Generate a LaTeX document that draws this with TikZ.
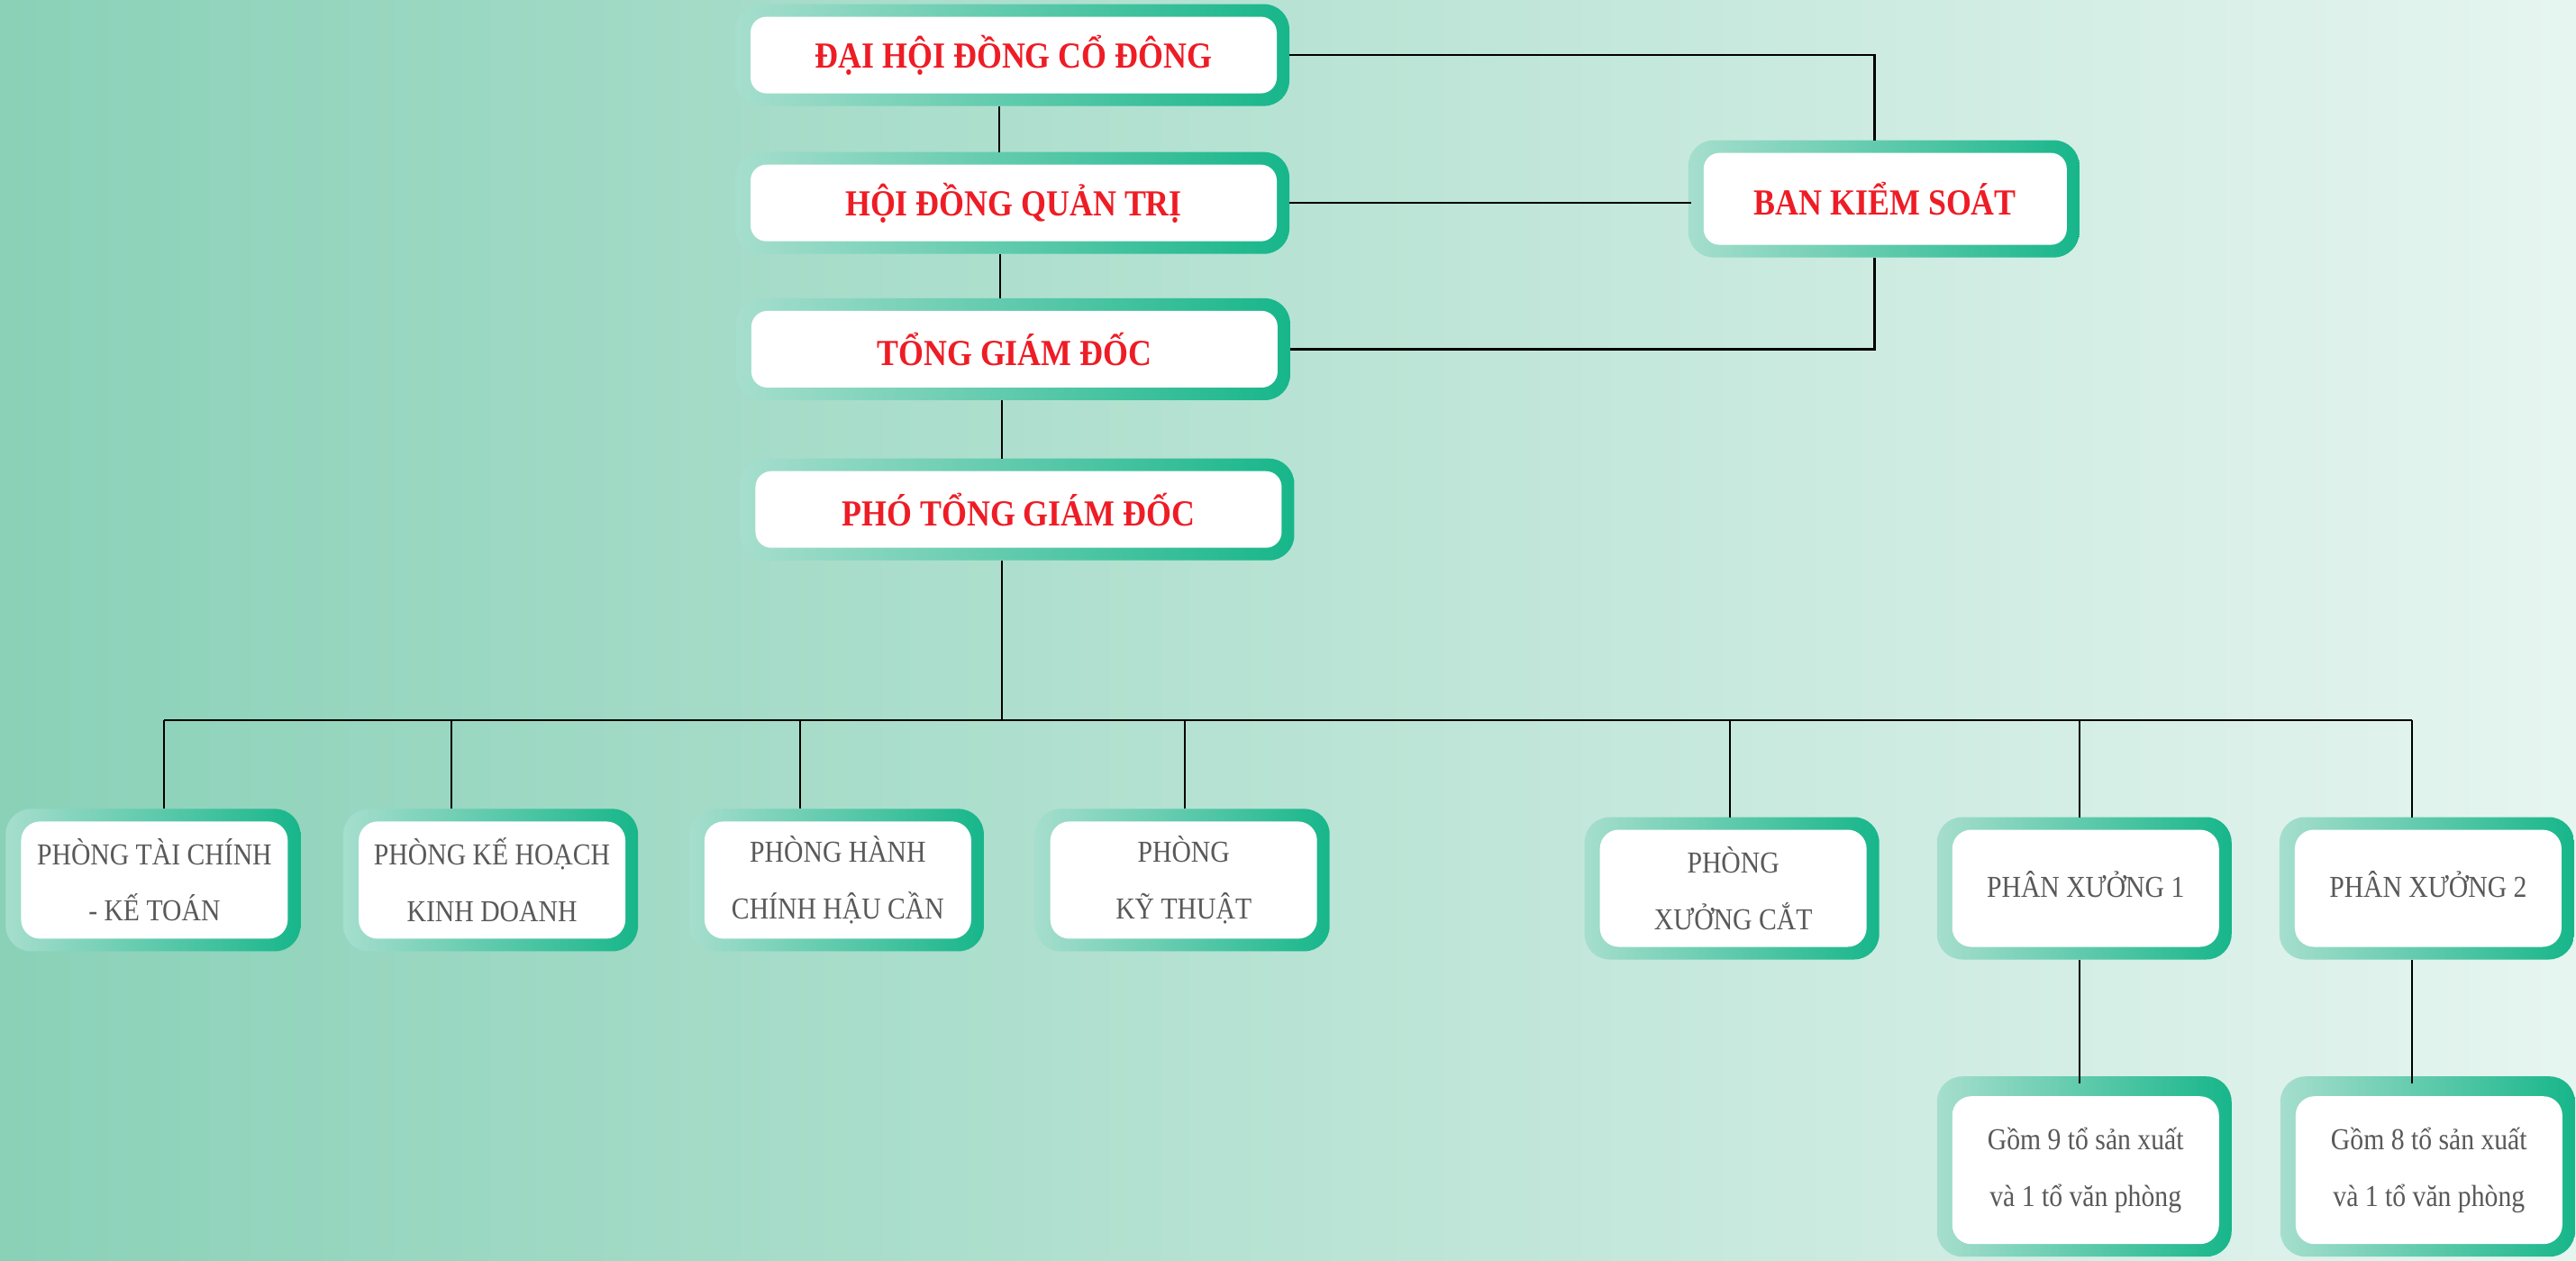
\documentclass[tikz,border=0pt]{standalone}
\usepackage{fontspec}
\setmainfont{Liberation Serif}[FakeStretch=0.88]
\usetikzlibrary{positioning}

\definecolor{bgL}{HTML}{8AD1B8}
\definecolor{bgR}{HTML}{E6F5F0}
\definecolor{frameL}{HTML}{A6DECD}
\definecolor{frameR}{HTML}{17B68A}
\definecolor{headred}{HTML}{EE1C25}
\definecolor{unitgray}{HTML}{595959}

\pgfdeclarelayer{back}
\pgfsetlayers{back,main}

\begin{document}
\begin{tikzpicture}[
  x=0.018234cm, y=-0.018234cm,
  box/.style={rectangle, rounded corners=5pt, fill=white, inner sep=0pt, outer sep=0.14cm, align=center},
  headbox/.style={box, minimum width=5.84cm, minimum height=0.85cm, text=headred, font=\bfseries\fontsize{11.6}{14}\selectfont},
  unitbox/.style={box, rounded corners=6pt, minimum width=2.96cm, minimum height=1.3cm, text=unitgray, font=\fontsize{9.6}{17.8}\selectfont},
  frame/.style={left color=frameL, right color=frameR, rounded corners=8pt},
  link/.style={draw=black, line width=0.6pt}
]
\useasboundingbox (0,0) rectangle (1568,767);

% top of the chart
\node[headbox] (dhcd) at (617,33.5)  {ĐẠI HỘI ĐỒNG CỔ ĐÔNG};
\node[headbox] (hdqt) at (617,123.5) {HỘI ĐỒNG QUẢN TRỊ};
\node[headbox] (tgd)  at (617.5,212.5) {TỔNG GIÁM ĐỐC};
\node[headbox] (ptgd) at (620,310)   {PHÓ TỔNG GIÁM ĐỐC};
\node[headbox, minimum width=4.03cm, minimum height=1.02cm] (bks) at (1147.5,121) {BAN KIỂM SOÁT};

% departments
\node[unitbox] (ptc) at (94,535.5)    {PHÒNG TÀI CHÍNH\\- KẾ TOÁN};
\node[unitbox] (pkh) at (299.5,535.5) {PHÒNG KẾ HOẠCH\\KINH DOANH};
\node[unitbox] (phc) at (510,535.5)   {PHÒNG HÀNH\\CHÍNH HẬU CẦN};
\node[unitbox] (pkt) at (720.5,535.5) {PHÒNG\\KỸ THUẬT};
\node[unitbox] (pxc) at (1055,540.5)  {PHÒNG\\XƯỞNG CẮT};
\node[unitbox] (px1) at (1269.5,540.5) {\raisebox{0.1cm}{PHÂN XƯỞNG 1}};
\node[unitbox] (px2) at (1478,540.5)  {\raisebox{0.1cm}{PHÂN XƯỞNG 2}};
\node[unitbox, minimum height=1.64cm] (g9) at (1269.5,712) {Gồm 9 tổ sản xuất\\và 1 tổ văn phòng};
\node[unitbox, minimum height=1.64cm] (g8) at (1478.5,712) {Gồm 8 tổ sản xuất\\và 1 tổ văn phòng};

% spine and bus
\coordinate (v1) at (608,0);
\coordinate (v2) at (609,0);
\coordinate (v3) at (610,0);
\coordinate (bus) at (610,438);
\coordinate (b1) at (100,438);
\coordinate (b2) at (275,438);
\coordinate (b3) at (487,438);
\coordinate (b4) at (721,438);
\coordinate (b5) at (1053,438);
\coordinate (b6) at (1266,438);
\coordinate (b7) at (1468,438);
\coordinate (k1) at (1141,0);

\draw[link] (v1 |- dhcd.south) -- (v1 |- hdqt.north);
\draw[link] (v2 |- hdqt.south) -- (v2 |- tgd.north);
\draw[link] (v3 |- tgd.south) -- (v3 |- ptgd.north);
\draw[link] (v3 |- ptgd.south) -- (bus);
\draw[link] (dhcd.east) -| (k1 |- bks.north);
\draw[link] (hdqt.east) -- (hdqt.east -| bks.west);
\draw[link] (tgd.east) -| (k1 |- bks.south);

\draw[link] (b1) -- (b7);
\draw[link] (b1) -- (b1 |- ptc.north);
\draw[link] (b2) -- (b2 |- pkh.north);
\draw[link] (b3) -- (b3 |- phc.north);
\draw[link] (b4) -- (b4 |- pkt.north);
\draw[link] (b5) -- (b5 |- pxc.north);
\draw[link] (b6) -- (b6 |- px1.north);
\draw[link] (b7) -- (b7 |- px2.north);
\draw[link] (b6 |- px1.south) -- (b6 |- g9.north);
\draw[link] (b7 |- px2.south) -- (b7 |- g8.north);

\begin{pgfonlayer}{back}
  \shade[left color=bgL, right color=bgR] (0,0) rectangle (1568,767);
  \foreach \n/\t in {dhcd/0,hdqt/0,tgd/0,ptgd/0,bks/0,ptc/0,pkh/0,phc/0,pkt/0,pxc/0,px1/0,px2/0,g9/0.08,g8/0.08}
    \shade[frame] ([xshift=-0.03cm, yshift=\t cm]\n.north west) rectangle (\n.south east);
\end{pgfonlayer}
\end{tikzpicture}
\end{document}
